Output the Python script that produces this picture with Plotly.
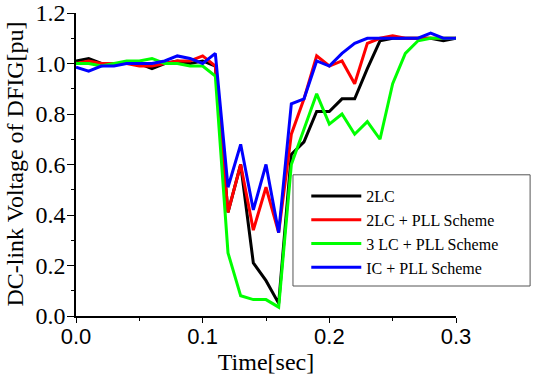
import plotly.graph_objects as go

time_s = [0.00, 0.01, 0.02, 0.03, 0.04, 0.05, 0.06, 0.07, 0.08, 0.09,
          0.10, 0.11, 0.12, 0.13, 0.14, 0.15, 0.16, 0.17, 0.18, 0.19,
          0.20, 0.21, 0.22, 0.23, 0.24, 0.25, 0.26, 0.27, 0.28, 0.29, 0.30]

v_2lc = [1.01, 1.02, 1.00, 1.00, 1.00, 1.00, 0.98, 1.00, 1.01, 1.00,
         1.01, 0.99, 0.41, 0.60, 0.21, 0.14, 0.05, 0.64, 0.69, 0.81,
         0.81, 0.86, 0.86, 0.98, 1.09, 1.10, 1.10, 1.10, 1.10, 1.09, 1.10]

v_2lc_pll = [1.00, 1.01, 1.00, 1.00, 1.00, 0.99, 0.99, 1.00, 1.01, 1.01,
             1.03, 0.99, 0.41, 0.60, 0.34, 0.51, 0.33, 0.72, 0.86, 1.03,
             0.99, 1.01, 0.92, 1.08, 1.10, 1.11, 1.10, 1.10, 1.10, 1.10, 1.10]

v_3lc_pll = [1.00, 1.00, 0.99, 1.00, 1.01, 1.01, 1.02, 1.00, 1.00, 0.99,
             0.99, 0.95, 0.25, 0.08, 0.065, 0.065, 0.035, 0.60, 0.74, 0.88,
             0.76, 0.80, 0.72, 0.77, 0.70, 0.92, 1.04, 1.09, 1.10, 1.10, 1.10]

v_ic_pll = [0.985, 0.97, 0.99, 0.99, 1.00, 1.00, 1.00, 1.01, 1.03, 1.02,
            1.00, 1.04, 0.51, 0.68, 0.42, 0.60, 0.33, 0.84, 0.86, 1.01,
            0.99, 1.04, 1.08, 1.10, 1.10, 1.10, 1.10, 1.10, 1.12, 1.10, 1.10]

series_names = ["2LC", "2LC + PLL Scheme", "3 LC + PLL Scheme", "IC + PLL Scheme"]
series_vals = [v_2lc, v_2lc_pll, v_3lc_pll, v_ic_pll]
series_colors = ["#000000", "#ff0000", "#00ff00", "#0000ff"]

x_ticks = [0.0, 0.1, 0.2, 0.3]
y_ticks = [0.0, 0.2, 0.4, 0.6, 0.8, 1.0, 1.2]

fig = go.Figure()
for name, vals, col in zip(series_names, series_vals, series_colors):
    fig.add_trace(go.Scatter(x=time_s, y=vals, mode="lines", name=name,
                             line=dict(color=col, width=3)))

serif = "Liberation Serif, Times New Roman, serif"
sans = "Liberation Sans, Arial, sans-serif"

# legend frame (decoration, paper coordinates)
fig.add_shape(type="rect", xref="paper", yref="paper",
              x0=0.571, x1=1.195, y0=0.099, y1=0.466,
              line=dict(color="#555555", width=1), fillcolor="white", layer="above")

# y-axis title as a rotated annotation
fig.add_annotation(text="DC-link Voltage of DFIG[pu]", xref="paper", yref="paper",
                   x=-0.163, y=0.5, xanchor="center", yanchor="middle",
                   textangle=-90, showarrow=False,
                   font=dict(family=serif, size=24, color="black"))

fig.update_layout(
    width=533, height=377,
    margin=dict(l=76, r=77, t=13, b=61, autoexpand=False),
    paper_bgcolor="white", plot_bgcolor="white",
    showlegend=True,
    legend=dict(x=0.606, y=0.452, xanchor="left", yanchor="top",
                bgcolor="rgba(0,0,0,0)", borderwidth=0,
                font=dict(family=serif, size=16, color="black"),
                tracegroupgap=0, itemwidth=50),
)
fig.update_xaxes(
    range=[0, 0.3], tickvals=x_ticks, tickformat=".1f", automargin=False,
    showline=True, linecolor="black", linewidth=1.5, mirror=False,
    showgrid=False, zeroline=False,
    ticks="outside", ticklen=5, tickwidth=1.2, tickcolor="black",
    ticklabelstandoff=-5, ticklabeloverflow="allow",
    minor=dict(dtick=0.05, ticks="outside", ticklen=3, tickcolor="black", tickwidth=1),
    tickfont=dict(family=sans, size=22, color="black"),
    title=dict(text="Time[sec]", font=dict(family=serif, size=24, color="black"), standoff=2),
)
fig.update_yaxes(
    range=[0, 1.2], tickvals=y_ticks, tickformat=".1f", automargin=False,
    showline=True, linecolor="black", linewidth=1.5, mirror=False,
    showgrid=False, zeroline=False,
    ticks="outside", ticklen=7, tickwidth=1.2, tickcolor="black",
    ticklabelstandoff=-3, ticklabeloverflow="allow",
    minor=dict(dtick=0.1, ticks="outside", ticklen=3, tickcolor="black", tickwidth=1),
    tickfont=dict(family=serif, size=24, color="black"),
)

fig.write_html("out.html", config={"displayModeBar": False},
               post_script="document.body.style.margin='0';document.body.style.padding='0';")
